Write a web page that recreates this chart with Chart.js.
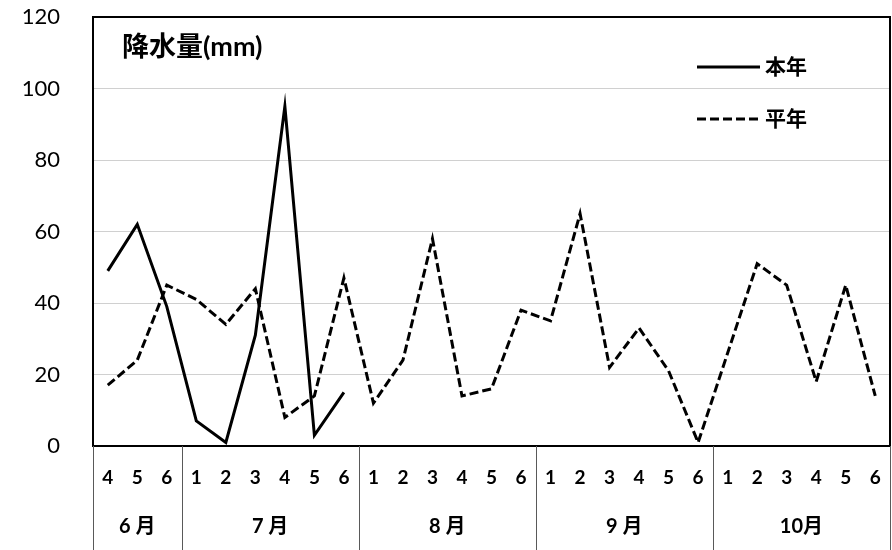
<!DOCTYPE html>
<html>
<head>
<meta charset="utf-8">
<script src="https://cdn.jsdelivr.net/npm/chart.js@4"></script>
<style>
  body { margin: 0; background: #fff; }
  #wrap { width: 892px; height: 550px; position: relative; }
</style>
</head>
<body>
<div id="wrap"><canvas id="rainChart"></canvas></div>
<script>
const FONT = 'Lato, "Noto Sans CJK JP", sans-serif';

// 半旬ラベル
const weeks = ['4', '5', '6',
  '1', '2', '3', '4', '5', '6',
  '1', '2', '3', '4', '5', '6',
  '1', '2', '3', '4', '5', '6',
  '1', '2', '3', '4', '5', '6'];
const months = ['6 月', '7 月', '8 月', '9 月', '10月'];
const monthSize = [3, 6, 6, 6, 6];

// 降水量 (mm)
const thisYear = [49, 62, 39, 7, 1, 31, 95, 3, 15];
const normalYear = [17, 24, 45, 41, 34, 44, 8, 14, 47,
  12, 24, 58, 14, 16, 38,
  35, 65, 22, 33, 21, 1,
  26, 51, 45, 18, 45, 14];

const yMin = 0, yMax = 120, yStep = 20;

Chart.defaults.font.family = FONT;
Chart.defaults.color = '#000';

// 枠・区切り線・月ラベル・タイトル・凡例
const decorations = {
  id: 'decorations',
  afterDraw(chart) {
    const { ctx, chartArea: a, scales: { x } } = chart;
    const half = (x.getPixelForValue(1) - x.getPixelForValue(0)) / 2;

    ctx.save();
    ctx.strokeStyle = '#000';
    ctx.lineWidth = 2;
    ctx.strokeRect(a.left, a.top, a.right - a.left, a.bottom - a.top);

    // month separators and labels
    ctx.strokeStyle = '#595959';
    ctx.lineWidth = 1;
    ctx.font = 'bold 20px ' + FONT;
    ctx.fillStyle = '#000';
    ctx.textAlign = 'center';
    ctx.textBaseline = 'middle';
    let start = 0;
    const edge = i => x.getPixelForValue(i) - half;
    const drawSep = px => {
      ctx.beginPath();
      ctx.moveTo(Math.round(px) + 0.5, a.bottom);
      ctx.lineTo(Math.round(px) + 0.5, chart.height);
      ctx.stroke();
    };
    drawSep(edge(0));
    months.forEach((m, i) => {
      const end = start + monthSize[i];
      const right = end < weeks.length ? edge(end) : x.getPixelForValue(end - 1) + half;
      drawSep(right);
      ctx.fillText(m, (edge(start) + right) / 2, 527);
      start = end;
    });

    // title
    ctx.textAlign = 'left';
    ctx.font = 'bold 27px ' + FONT;
    ctx.fillText('降水量(mm)', 122, 47);

    // legend
    ctx.font = 'bold 21px ' + FONT;
    chart.data.datasets.forEach((ds, i) => {
      const y = 67 + i * 52;
      ctx.strokeStyle = ds.borderColor;
      ctx.lineWidth = ds.borderWidth;
      ctx.setLineDash(ds.borderDash || []);
      ctx.beginPath();
      ctx.moveTo(697, y);
      ctx.lineTo(760, y);
      ctx.stroke();
      ctx.setLineDash([]);
      ctx.fillText(ds.label, 765, y);
    });
    ctx.restore();
  }
};

new Chart(document.getElementById('rainChart'), {
  type: 'line',
  data: {
    labels: weeks,
    datasets: [
      {
        label: '本年',
        data: thisYear,
        borderColor: '#000',
        borderWidth: 3,
        pointRadius: 0,
        tension: 0,
        fill: false
      },
      {
        label: '平年',
        data: normalYear,
        borderColor: '#000',
        borderWidth: 3,
        borderDash: [9, 4],
        pointRadius: 0,
        tension: 0,
        fill: false
      }
    ]
  },
  options: {
    responsive: true,
    maintainAspectRatio: false,
    animation: false,
    layout: { padding: { top: 17, right: 2, left: 0, bottom: 0 } },
    plugins: {
      legend: { display: false },
      tooltip: { enabled: false }
    },
    scales: {
      x: {
        offset: true,
        grid: { display: false, drawTicks: false },
        border: { display: true, color: '#000', width: 2 },
        ticks: {
          autoSkip: false,
          maxRotation: 0,
          padding: 20,
          font: { size: 19, weight: 'bold' }
        },
        afterFit(scale) {
          scale.height = 104;
          scale.paddingLeft = 0;
          scale.paddingRight = 0;
        }
      },
      y: {
        min: yMin,
        max: yMax,
        grid: { color: '#d0d0d0', lineWidth: 1, drawTicks: false },
        border: { display: true, color: '#000', width: 2 },
        ticks: {
          stepSize: yStep,
          padding: 33,
          font: { size: 22 }
        },
        afterFit(scale) {
          scale.width = 93;
          scale.paddingTop = 0;
          scale.paddingBottom = 0;
        }
      }
    }
  },
  plugins: [decorations]
});
</script>
</body>
</html>
